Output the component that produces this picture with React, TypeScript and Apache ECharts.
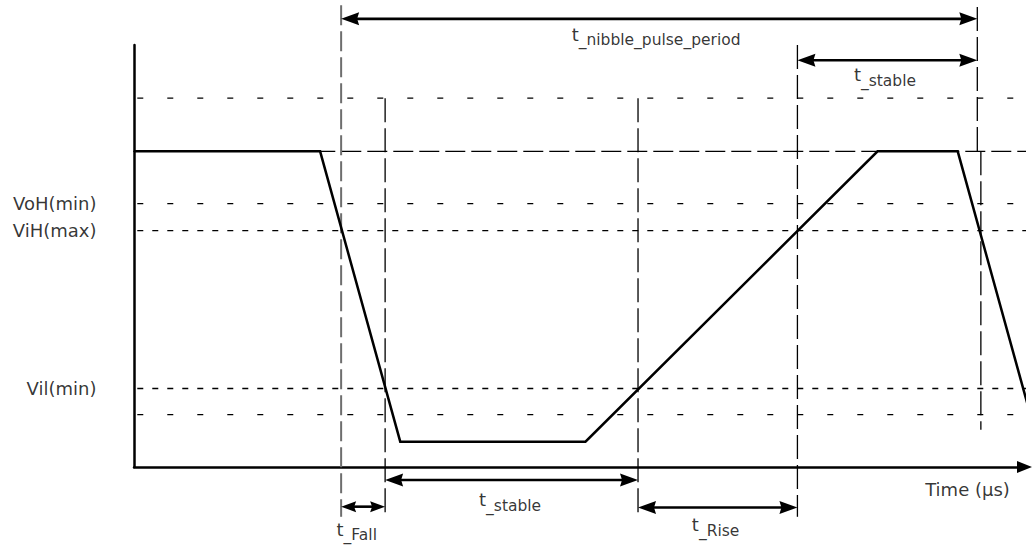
import React, { useEffect, useRef } from 'react';
import * as echarts from 'echarts';

const FONT = '"DejaVu Sans", "Liberation Sans", sans-serif';

// Waveform: time (arbitrary units) and voltage (arbitrary units)
const waveTime = [0, 20.9, 29.9, 50.7, 83.5, 92.5, 101.5];
const waveVolt = [3.74, 3.74, 0.3, 0.3, 3.74, 3.74, 0.3];

// Horizontal reference levels
const levelVolts = [4.37, 3.74, 3.12, 2.8, 0.93, 0.62];
const levelNames = ['', '', 'VoH(min)', 'ViH(max)', 'Vil(min)', ''];
const levelStart = -3.0;
const levelEnd = 101.5;

// Vertical timing markers
const markerTime = [23.26, 28.2, 56.6, 74.5, 94.7, 95.1];
const markerTop = [5.47, 4.37, 4.37, 5.0, 5.45, 3.74];
const markerBottom = [-0.59, -0.59, -0.59, -0.59, 3.74, 0.44];

// Timing spans (double arrows)
const spanNames = ['t_nibble_pulse_period', 't_stable', 't_stable', 't_Fall', 't_Rise'];
const spanStart = [23.26, 74.5, 28.2, 23.26, 56.6];
const spanEnd = [94.7, 94.7, 56.6, 28.2, 74.5];
const spanLevel = [5.31, 4.82, -0.154, -0.47, -0.48];
const spanLabelTime = [49.2, 80.9, 38.8, 22.8, 62.7];
const spanLabelVolt = [5.23, 4.75, -0.29, -0.634, -0.586];

const levelLabelTime = -4.16;
const axisTitle = 'Time (µs)';
const axisTitlePos = [88.9, -0.27];

export default function App() {
  const ref = useRef<HTMLDivElement>(null);
  useEffect(() => {
    if (!ref.current) return;
    const chart = echarts.init(ref.current, undefined, { renderer: 'svg' });

    const levelStyles = [
      { type: [6, 24], color: '#000', width: 1.3 },
      { type: [20, 6], color: '#000', width: 1.3 },
      { type: [6, 24], color: '#000', width: 1.3 },
      { type: [6, 9], color: '#000', width: 1.3 },
      { type: [6, 9], color: '#000', width: 1.3 },
      { type: [6, 24], color: '#000', width: 1.3 },
    ];

    const levelSeries = levelVolts.map((v, i) => ({
      type: 'line',
      data: [[levelStart, v], [levelEnd, v]],
      symbol: 'none',
      silent: true,
      clip: false,
      z: 1,
      lineStyle: { ...levelStyles[i] },
    }));

    const markerSeries = markerTime.map((t, i) => ({
      type: 'line',
      data: [[t, markerTop[i]], [t, markerBottom[i]]],
      symbol: 'none',
      silent: true,
      clip: false,
      z: 1,
      lineStyle: i === 0
        ? { type: [20, 6], color: '#6e6e6e', width: 2 }
        : { type: [24, 6], color: '#000', width: 1.3 },
    }));

    const option: any = {
      animation: false,
      backgroundColor: '#fff',
      grid: { left: 134, right: 7.5, top: 45, bottom: 83 },
      xAxis: {
        type: 'value', min: 0, max: 100,
        axisLine: {
          show: true, onZero: true,
          lineStyle: { color: '#000', width: 2.5 },
          symbol: ['none', 'path://M6,0 L12,15 L0,15 Z'],
          symbolSize: [12, 15],
        },
        axisTick: { show: false }, axisLabel: { show: false }, splitLine: { show: false },
      },
      yAxis: {
        type: 'value', min: 0, max: 5,
        axisLine: { show: true, lineStyle: { color: '#000', width: 2.5 } },
        axisTick: { show: false }, axisLabel: { show: false }, splitLine: { show: false },
      },
      series: [
        ...levelSeries,
        ...markerSeries,
        {
          type: 'line',
          data: waveTime.map((t, i) => [t, waveVolt[i]]),
          symbol: 'none',
          silent: true,
          clip: false,
          z: 3,
          lineStyle: { color: '#000', width: 2.5, join: 'miter' },
        },
        {
          type: 'custom',
          clip: false,
          silent: true,
          z: 4,
          encode: { x: [0, 1], y: 2 },
          data: spanStart.map((s, i) => [s, spanEnd[i], spanLevel[i]]),
          renderItem: (params: any, api: any) => {
            const p1 = api.coord([api.value(0), api.value(2)]);
            const p2 = api.coord([api.value(1), api.value(2)]);
            const short = p2[0] - p1[0] < 60;
            const len = short ? 15 : 18;
            const hw = short ? 5.5 : 6.5;
            const notch = 2;
            return {
              type: 'group',
              children: [
                { type: 'line', shape: { x1: p1[0] + len - 3, y1: p1[1], x2: p2[0] - len + 3, y2: p2[1] }, style: { stroke: '#000', lineWidth: 2.6 } },
                { type: 'polygon', shape: { points: [[p1[0], p1[1]], [p1[0] + len, p1[1] - hw], [p1[0] + len - notch, p1[1]], [p1[0] + len, p1[1] + hw]] }, style: { fill: '#000' } },
                { type: 'polygon', shape: { points: [[p2[0], p2[1]], [p2[0] - len, p2[1] - hw], [p2[0] - len + notch, p2[1]], [p2[0] - len, p2[1] + hw]] }, style: { fill: '#000' } },
              ],
            };
          },
        },
        {
          type: 'scatter',
          clip: false,
          silent: true,
          symbolSize: 1,
          itemStyle: { color: 'rgba(0,0,0,0)' },
          z: 5,
          data: spanNames.map((n, i) => ({
            value: [spanLabelTime[i], spanLabelVolt[i]],
            label: {
              show: true,
              position: [0, 0],
              align: 'left',
              verticalAlign: 'top',
              formatter: '{t|' + n.slice(0, 1) + '}{s|' + n.slice(1) + '}',
              rich: {
                t: { fontSize: 18, fontFamily: FONT, color: '#000', verticalAlign: 'top', lineHeight: 18 },
                s: { fontSize: 15.5, fontFamily: FONT, color: '#000', verticalAlign: 'top', padding: [7, 0, 0, 0], lineHeight: 15 },
              },
            },
          })),
        },
        {
          type: 'scatter',
          clip: false,
          silent: true,
          symbolSize: 1,
          itemStyle: { color: 'rgba(0,0,0,0)' },
          z: 5,
          data: levelNames
            .map((n, i) => ({ n, v: levelVolts[i] }))
            .filter((d) => d.n)
            .map((d) => ({
              value: [levelLabelTime, d.v],
              label: {
                show: true, position: [0, 0], align: 'right', verticalAlign: 'middle',
                formatter: d.n, fontSize: 18, fontFamily: FONT, color: '#000',
              },
            })),
        },
        {
          type: 'scatter',
          clip: false,
          silent: true,
          symbolSize: 1,
          itemStyle: { color: 'rgba(0,0,0,0)' },
          z: 5,
          data: [{
            value: axisTitlePos,
            label: {
              show: true, position: [0, 0], align: 'left', verticalAlign: 'middle',
              formatter: axisTitle, fontSize: 18, fontFamily: FONT, color: '#000',
            },
          }],
        },
      ],
    };
    chart.setOption(option);
    return () => chart.dispose();
  }, []);
  return (
    <div
      ref={ref}
      style={{ position: 'fixed', left: 0, top: 0, width: 1032, height: 550, background: '#fff' }}
    />
  );
}
